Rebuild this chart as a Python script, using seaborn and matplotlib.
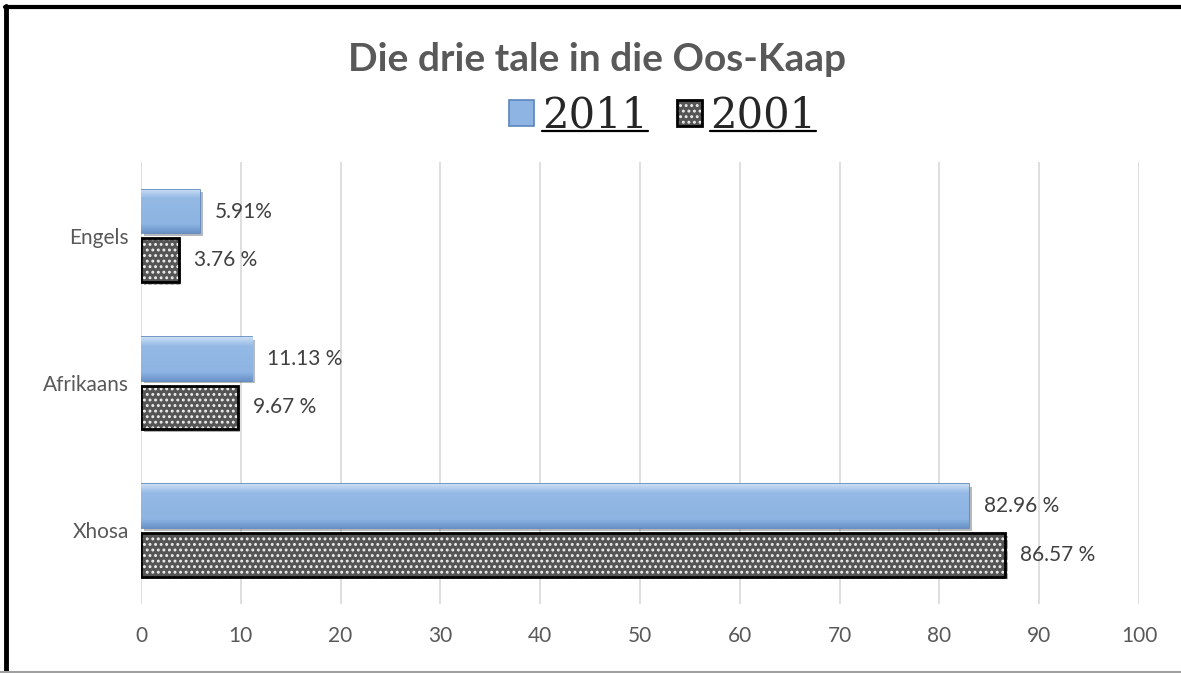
import numpy as np
import pandas as pd
import matplotlib
matplotlib.use("Agg")
import matplotlib.pyplot as plt
import seaborn as sns
from matplotlib.patches import Patch, Rectangle
from matplotlib.lines import Line2D
from matplotlib.legend_handler import HandlerTuple
import matplotlib.patheffects as pe

# ---- data ----
tale      = ["Engels", "Afrikaans", "Xhosa"]
jare      = ["2011", "2001"]
waardes_2011 = [5.91, 11.13, 82.96]
waardes_2001 = [3.76, 9.67, 86.57]
etikette_2011 = ["5.91%", "11.13 %", "82.96 %"]
etikette_2001 = ["3.76 %", "9.67 %", "86.57 %"]
x_ticks = [0, 10, 20, 30, 40, 50, 60, 70, 80, 90, 100]

df = pd.DataFrame({
    "taal": tale * 2,
    "jaar": [jare[0]] * 3 + [jare[1]] * 3,
    "persent": waardes_2011 + waardes_2001,
})

sns.set_theme(style="white")
plt.rcParams["font.family"] = ["Lato", "DejaVu Sans"]
plt.rcParams["hatch.linewidth"] = 1.3

BLUE = "#8DB4E2"
BLUE_EDGE = "#5A86BE"
DARK = "#555555"
GRAY_TXT = "#595959"

fig = plt.figure(figsize=(11.81, 6.73), dpi=100)
ax = fig.add_axes([0.1194, 0.1025, 0.845, 0.6565])

sns.barplot(data=df, x="persent", y="taal", hue="jaar", order=tale,
            hue_order=jare, orient="h", width=0.66, gap=0.1,
            palette=[BLUE, DARK], legend=False, ax=ax, zorder=3)

shadow = [pe.SimplePatchShadow(offset=(2, -2), alpha=0.35), pe.Normal()]

# 2011: blue bevel-ish gradient
grad = np.linspace(0, 1, 64).reshape(-1, 1)
cmap_blue = matplotlib.colors.LinearSegmentedColormap.from_list(
    "b", [(0, "#C9DDF4"), (0.2, "#94B9E5"), (0.8, "#8DB4E2"), (1, "#6B93C8")])
for p in ax.containers[0]:
    p.set_edgecolor(BLUE_EDGE)
    p.set_linewidth(1.2)
    p.set_path_effects(shadow)
    x0, y0 = p.get_xy()
    w, h = p.get_width(), p.get_height()
    im = ax.imshow(grad, cmap=cmap_blue, aspect="auto",
                   extent=(x0, x0 + w, y0 + h, y0), zorder=3.5)
    im.set_clip_path(p)

# 2001: dark dotted
for p in ax.containers[1]:
    p.set_facecolor(DARK)
    p.set_hatch("...")
    p.set_edgecolor("#F0F0F0")
    p.set_linewidth(0)
    p.set_path_effects(shadow)
    ax.add_patch(Rectangle(p.get_xy(), p.get_width(), p.get_height(),
                           fill=False, ec="black", lw=2, zorder=4))

ax.bar_label(ax.containers[0], labels=etikette_2011, padding=11,
             fontsize=15, color="#404040")
ax.bar_label(ax.containers[1], labels=etikette_2001, padding=11,
             fontsize=15, color="#404040")

ax.set_xlim(0, 100)
ax.set_ylim(2.5, -0.5)
ax.set_xticks(x_ticks)
ax.set_xticklabels([str(t) for t in x_ticks])
ax.tick_params(axis="x", labelsize=15, labelcolor=GRAY_TXT, pad=16, length=0)
ax.tick_params(axis="y", labelsize=15, labelcolor=GRAY_TXT, pad=8.5, length=0)
ax.grid(axis="x", color="#D9D9D9", lw=1.2, zorder=0)
ax.set_xlabel("")
ax.set_ylabel("")
sns.despine(ax=ax, left=True, bottom=True)

fig.text(0.5055, 0.912, "Die drie tale in die Oos-Kaap", ha="center",
         va="center", fontsize=28, fontweight="bold", color=GRAY_TXT)

# legend
LEG_PT = 30
h_blue = Patch(facecolor=BLUE, edgecolor=BLUE_EDGE, lw=1.2)
h_dark = (Patch(facecolor=DARK, hatch="...", edgecolor="#F0F0F0", lw=0),
          Patch(facecolor="none", edgecolor="black", lw=2))
leg = fig.legend([h_blue, h_dark], jare, loc="center",
                 bbox_to_anchor=(0.561, 0.828), ncol=2, frameon=False,
                 prop={"family": "DejaVu Serif", "size": LEG_PT},
                 handlelength=0.6, handleheight=0.6, handletextpad=0.2,
                 columnspacing=0.7,
                 handler_map={tuple: HandlerTuple(ndivide=1, pad=0)})

# figure border
fig.add_artist(Line2D([0.004, 1.0], [0.9895, 0.9895], color="black", lw=3,
                      transform=fig.transFigure))
fig.add_artist(Line2D([0.0051, 0.0051], [0.0, 0.991], color="black", lw=3.5,
                      transform=fig.transFigure))
fig.add_artist(Line2D([0.0, 1.0], [0.002, 0.002], color="#A0A0A0", lw=1.5,
                      transform=fig.transFigure))

# underline legend texts (just under the baseline)
fig.canvas.draw()
px = LEG_PT * fig.dpi / 72
for t in leg.get_texts():
    bb = t.get_window_extent()
    yl = bb.y0 + 0.236 * px - 4
    fig.add_artist(Line2D([bb.x0, bb.x1], [yl, yl], color="black", lw=1.6,
                          transform=None))

fig.savefig("out.png", dpi=100)
